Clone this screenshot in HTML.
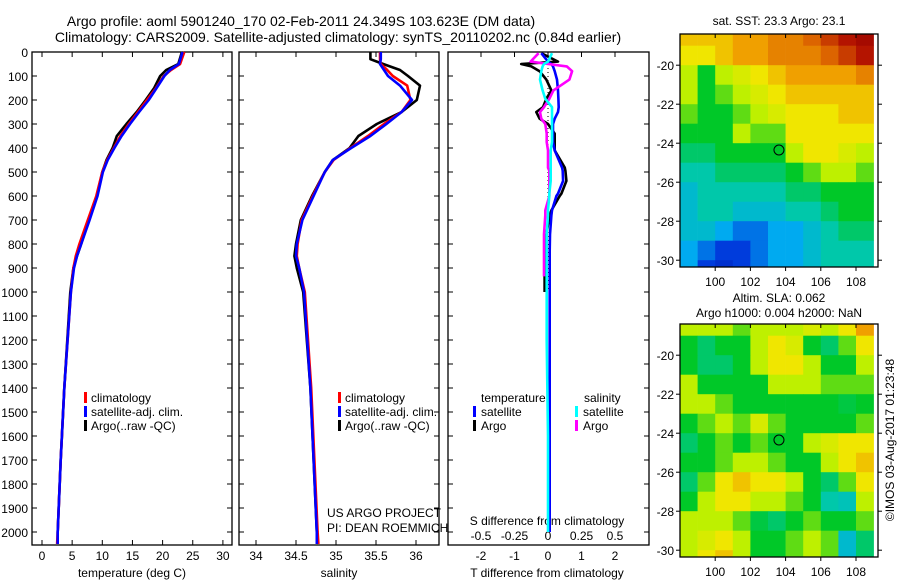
<!DOCTYPE html>
<html><head><meta charset="utf-8"><style>
body{margin:0;background:#fff}
svg{display:block;font-family:"Liberation Sans",sans-serif}
text{fill:#000}
</style></head><body>
<svg id="c" width="900" height="580" viewBox="0 0 900 580">
<text x="301" y="26" font-size="14" text-anchor="middle">Argo profile: aoml 5901240_170 02-Feb-2011 24.349S 103.623E (DM data)</text>
<text x="338" y="42" font-size="14" text-anchor="middle">Climatology: CARS2009. Satellite-adjusted climatology: synTS_20110202.nc (0.84d earlier)</text>
<text x="779" y="25" font-size="12" text-anchor="middle">sat. SST: 23.3 Argo: 23.1</text>
<text x="779" y="302" font-size="12" text-anchor="middle">Altim. SLA: 0.062</text>
<text x="779" y="317" font-size="12" text-anchor="middle">Argo h1000: 0.004 h2000: NaN</text>
<text transform="translate(894,440) rotate(-90)" font-size="12" text-anchor="middle">©IMOS 03-Aug-2017 01:23:48</text>
<g id="g"></g>
</svg>
<script>
// ---------- data ----------
const depthT=[0,50,75,100,150,200,250,300,350,400,450,500,600,700,800,850,900,1000,1400,1700,2000,2050];
const tempClim=[23.6,22.9,21.4,20.2,18.9,17.4,15.9,14.4,13.0,11.9,10.8,10.0,9.0,7.6,6.2,5.6,5.2,4.8,3.7,3.1,2.6,2.5];
const tempSat=[23.3,22.7,21.2,20.3,19.0,17.7,16.1,14.6,13.2,12.0,10.9,10.1,9.2,7.9,6.5,5.8,5.3,4.8,3.7,3.1,2.6,2.6];
const tempArgo=[23.2,22.6,20.6,19.6,18.6,17.2,15.7,14.0,12.4,11.7,10.7,10.0,9.1,7.8,6.5,5.8,5.2,4.7,3.7,3.1,2.6,2.6];
const depthS=[0,30,50,75,100,140,200,250,300,350,400,450,500,600,700,800,850,900,1000,1400,1700,2000,2050];
const salClim=[35.55,35.55,35.56,35.64,35.71,35.89,35.93,35.82,35.6,35.4,35.18,34.97,34.86,34.71,34.57,34.52,34.51,34.54,34.61,34.69,34.73,34.77,34.78];
const salSat=[35.56,35.56,35.55,35.6,35.65,35.8,35.95,35.82,35.63,35.43,35.19,34.96,34.86,34.72,34.58,34.51,34.5,34.54,34.6,34.68,34.72,34.76,34.76];
const salArgo=[35.43,35.43,35.59,35.8,35.9,36.05,36.01,35.82,35.51,35.28,35.17,34.96,34.86,34.7,34.56,34.5,34.48,34.51,34.59,34.68,34.72,34.76,34.76];
const depthD=[5,40,50,60,80,115,160,195,230,250,278,300,340,375,410,482,495,537,590,600,660,680,760,830,935,1000,1200,1600,2000];
const dTsat=[-0.2,0.0,0.1,0.15,0.2,0.27,0.3,0.31,0.32,0.3,0.2,0.15,0.15,0.15,0.2,0.42,0.44,0.45,0.3,0.25,0.12,0.1,0.06,0.05,0.05,0.05,0.05,0.05,0.05];
const dTargo=[-0.2,0.3,-0.8,-0.5,-0.25,-0.05,0.1,-0.05,-0.15,-0.35,-0.25,0.0,0.2,0.2,0.2,0.5,0.52,0.55,0.4,0.35,0.1,0.05,-0.05,-0.1,-0.1,-0.1,null,null,null];
const dSsat=[0.03,0.0,-0.03,-0.04,-0.05,-0.06,-0.04,-0.02,0.03,0.03,0.03,0.03,0.03,0.03,0.02,0.02,0.02,0.02,0.01,0.01,0.0,0.0,-0.01,-0.01,-0.01,-0.01,-0.01,0.0,0.0];
const dSargo=[-0.07,-0.13,0.0,0.14,0.18,0.16,0.04,0.01,-0.03,-0.06,-0.05,-0.02,-0.01,-0.01,0.0,0.0,0.01,0.01,0.01,0.01,-0.02,-0.02,-0.03,-0.03,-0.03,null,null,null,null];
const depthTicks=[0,100,200,300,400,500,600,700,800,900,1000,1100,1200,1300,1400,1500,1600,1700,1800,1900,2000];
const tTicks=[0,5,10,15,20,25,30];
const sTicks=[34,34.5,35,35.5,36];
const dTTicks=[-2,-1,0,1,2];
const dSTicks=[-0.5,-0.25,0,0.25,0.5];
const dSTickLabels=["-0.5","-0.25","0","0.25","0.5"];
const mapLons=[98.5,99.5,100.5,101.5,102.5,103.5,104.5,105.5,106.5,107.5,108.5];
const mapLats=[-18.5,-19.5,-20.5,-21.5,-22.5,-23.5,-24.5,-25.5,-26.5,-27.5,-28.5,-29.5,-30.5];
const sstGrid=[
[6.5,6.5,6.5,7,7,7.5,7.5,8,8.5,9,9.5],
[6,6,6.5,7,7,7.5,7.5,7.5,8,8.5,9],
[5,4,5,5.5,6,6.5,7,7,7,7,7.5],
[5,4,4.5,5,5.5,6,6.5,6.5,6.5,6.5,6.5],
[4.5,4,4,4.5,5,5.5,6,6,6,6.5,6.5],
[4,4,4,5,4.5,4.5,6,6,6,6,6],
[3.5,3.5,4,4,4,4,5,6,6,5.5,5],
[3,3,3.5,3.5,3.5,3.5,4,4.5,5,5,4.5],
[2.5,3,3,3,3,3,3.5,3.5,4,4,4],
[2.5,3,3,2.5,2.5,2.5,3,3,3.5,4,4],
[2.5,2.5,2,1.5,1.5,2,2,2.5,3,3.5,3.5],
[2,1.5,1,1,1.5,2,2,2.5,3,3,3],
[2,1,0.8,1,1.5,2,2,2.5,3,3,3]];
const slaGrid=[
[5,5,5,4.5,5,5,5,5.5,5,6,7],
[4,3.5,4,4,5,6,5.5,4,3.5,4.5,6],
[4,3.5,3.5,4,5,6,6,5,4,4,5],
[5,4,4,4,4,5,5,5,4.5,4.5,4.5],
[5,5,4.5,4,4,4,4,4,4,3.8,4],
[4,4.5,5,4.5,5.5,4.5,4,4,4,4,4.5],
[3.5,4,4.5,4,4.5,4,4,5,5.5,6,6],
[4,4,4.5,5,5,4.5,4,4,5,6,6.5],
[3.5,4.5,6,6.5,6,6,5,4,3.5,4.5,6],
[4,5,6,6,5,5,4.5,4,3,2.8,5],
[5,5,5,4.5,3.8,3.5,4,4.5,4,4,4.5],
[5,5.5,6,5,4,4,4.5,5,4.5,2.5,3.5],
[5,6,6.5,5,4,4,4.5,5,4.5,2.5,3.5]];
const argoLon=103.623, argoLat=-24.349;
const mapLonTicks=[100,102,104,106,108];
const mapLatTicks=[-20,-22,-24,-26,-28,-30];
// ---------- helpers ----------
const NS="http://www.w3.org/2000/svg", G=document.getElementById('g');
function el(t,a,txt){const e=document.createElementNS(NS,t);for(const k in a)e.setAttribute(k,a[k]);if(txt!=null)e.textContent=txt;G.appendChild(e);return e;}
const yD=d=>52+d*0.24;
const xT=v=>42+v*6.03;
const xS=v=>256+(v-34)*80;
const xDT=v=>548+v*33.5;
const xDS=v=>548+v*134;
const lonX=l=>680+(l-98)*17.6;
function latY(top,l){return top+( -18.4 - l)*19.5;}
const AX_B=545;
function frame(x0,x1,name){
  const r=el('rect',{x:x0,y:52,width:x1-x0,height:AX_B-52,fill:'none',stroke:'#000','stroke-width':1.3});
  
  
}
function line(xs,ds,fx,color,w,name){
  let p='';let pen=false;
  for(let i=0;i<xs.length;i++){ if(xs[i]==null){pen=false;continue;} p+=(pen?'L':'M')+fx(xs[i]).toFixed(1)+' '+yD(ds[i]).toFixed(1);pen=true;}
  const e=el('path',{d:p,fill:'none',stroke:color,'stroke-width':w,'stroke-linejoin':'round'});
  
  
}
function txt(x,y,s,name,anchor,size){
  const e=el('text',{x:x,y:y,'font-size':size||12,'text-anchor':anchor||'start'},s);
  
  
}
function legMark(x,y,color,name){
  const e=el('rect',{x:x,y:y-10,width:3,height:11,fill:color});
  
  
}
// ---------- panels ----------
const panels=[[32,232],[239,439],[448,649]];
frame(32,232,'temperature-axes');frame(239,439,'salinity-axes');frame(448,649,'difference-axes');
depthTicks.forEach(d=>{
  txt(28,yD(d)+5,String(d),'depth-tick-label','end',12);
  panels.forEach(p=>{el('line',{x1:p[0],x2:p[0]+5,y1:yD(d),y2:yD(d),stroke:'#000'});el('line',{x1:p[1]-5,x2:p[1],y1:yD(d),y2:yD(d),stroke:'#000'});});
});
tTicks.forEach(v=>{txt(xT(v),560,String(v),'temperature-tick-label','middle');el('line',{x1:xT(v),x2:xT(v),y1:52,y2:57,stroke:'#000'});el('line',{x1:xT(v),x2:xT(v),y1:AX_B-5,y2:AX_B,stroke:'#000'});});
sTicks.forEach(v=>{txt(xS(v),560,String(v),'salinity-tick-label','middle');el('line',{x1:xS(v),x2:xS(v),y1:52,y2:57,stroke:'#000'});el('line',{x1:xS(v),x2:xS(v),y1:AX_B-5,y2:AX_B,stroke:'#000'});});
dTTicks.forEach(v=>{txt(xDT(v),560,String(v),'t-diff-tick-label','middle');el('line',{x1:xDT(v),x2:xDT(v),y1:52,y2:57,stroke:'#000'});});
dSTicks.forEach((v,i)=>{txt(xDS(v),540,dSTickLabels[i],'s-diff-tick-label','middle');});
txt(132,577,'temperature (deg C)','temperature-axis-title','middle');
txt(339,577,'salinity','salinity-axis-title','middle');
txt(547,577,'T difference from climatology','t-diff-axis-title','middle');
txt(547,525,'S difference from climatology','s-diff-axis-title','middle');
txt(327,517,'US ARGO PROJECT','project-label');
txt(327,532,'PI: DEAN ROEMMICH','pi-label');
const z=el('line',{x1:548,x2:548,y1:52,y2:yD(1000),stroke:'#000','stroke-dasharray':'1 3'});


// series
line(tempArgo,depthT.slice(0,tempArgo.length),xT,'#000',2.6,'temp-argo-line');
line(tempClim,depthT,xT,'#f00',2.6,'temp-climatology-line');
line(tempSat,depthT,xT,'#00f',2.6,'temp-satellite-line');
line(salArgo,depthS,xS,'#000',2.6,'sal-argo-line');
line(salClim,depthS,xS,'#f00',2.6,'sal-climatology-line');
line(salSat,depthS,xS,'#00f',2.6,'sal-satellite-line');
line(dTargo,depthD,xDT,'#000',2.6,'tdiff-argo-line');
line(dTsat,depthD,xDT,'#00f',2.6,'tdiff-satellite-line');
line(dSargo,depthD,xDS,'#f0f',2.6,'sdiff-argo-line');
line(dSsat,depthD,xDS,'#0ff',2.6,'sdiff-satellite-line');
// legends
[['#f00','climatology'],['#00f','satellite-adj. clim.'],['#000','Argo(..raw -QC)']].forEach((l,i)=>{
  legMark(84,402+i*14,l[0],'temp-legend-marker');txt(91,402+i*14,l[1],'temp-legend-entry');
  legMark(338,402+i*14,l[0],'sal-legend-marker');txt(345,402+i*14,l[1],'sal-legend-entry');
});
txt(481,402,'temperature','diff-legend-temperature-header');
txt(584,402,'salinity','diff-legend-salinity-header');
legMark(473,416,'#00f','tdiff-sat-marker');txt(481,416,'satellite','tdiff-sat-legend');
legMark(473,430,'#000','tdiff-argo-marker');txt(481,430,'Argo','tdiff-argo-legend');
legMark(575,416,'#0ff','sdiff-sat-marker');txt(583,416,'satellite','sdiff-sat-legend');
legMark(575,430,'#f0f','sdiff-argo-marker');txt(583,430,'Argo','sdiff-argo-legend');
// ---------- maps ----------
const cmap=[[0,0,150],[0,60,220],[0,170,240],[0,200,170],[0,200,40],[190,240,0],[240,230,0],[240,160,0],[220,100,0],[180,20,0],[150,0,0]];
function col(v){const i=Math.max(0,Math.min(9,Math.floor(v)));const f=Math.max(0,Math.min(1,v-i));const a=cmap[i],b=cmap[i+1];return 'rgb('+a.map((c,k)=>Math.round(c+(b[k]-c)*f)).join(',')+')';}
function map(top,grid,name){
  const bot=top+233;
  const cp='clip'+top;
  const defs=el('clipPath',{id:cp});const cr=document.createElementNS(NS,'rect');cr.setAttribute('x',680);cr.setAttribute('y',top);cr.setAttribute('width',198);cr.setAttribute('height',233);defs.appendChild(cr);
  const g=el('g',{'clip-path':'url(#'+cp+')'});
  
  
  grid.forEach((row,r)=>row.forEach((v,c)=>{
    const x=lonX(mapLons[c]-0.5),y=latY(top,mapLats[r]+0.5);
    const e=document.createElementNS(NS,'rect');
    e.setAttribute('x',x);e.setAttribute('y',y);e.setAttribute('width',17.9);e.setAttribute('height',19.8);e.setAttribute('fill',col(v));
    
    
    g.appendChild(e);
  }));
  el('rect',{x:680,y:top,width:198,height:233,fill:'none',stroke:'#000','stroke-width':1.3});
  mapLonTicks.forEach(l=>{txt(lonX(l),top+252,String(l),'map-lon-tick-label','middle');el('line',{x1:lonX(l),x2:lonX(l),y1:top,y2:top+4,stroke:'#000'});el('line',{x1:lonX(l),x2:lonX(l),y1:bot,y2:bot+4,stroke:'#000'});});
  mapLatTicks.forEach(l=>{const y=latY(top,l);txt(674,y+5,String(l),'map-lat-tick-label','end');el('line',{x1:676,x2:680,y1:y,y2:y,stroke:'#000'});el('line',{x1:878,x2:882,y1:y,y2:y,stroke:'#000'});});
  const c=el('circle',{cx:lonX(argoLon),cy:latY(top,argoLat),r:5,fill:'none',stroke:'#000','stroke-width':1});
  
  
}
map(34,sstGrid,'sst-map');
map(324,slaGrid,'sla-map');
</script>
</body></html>
